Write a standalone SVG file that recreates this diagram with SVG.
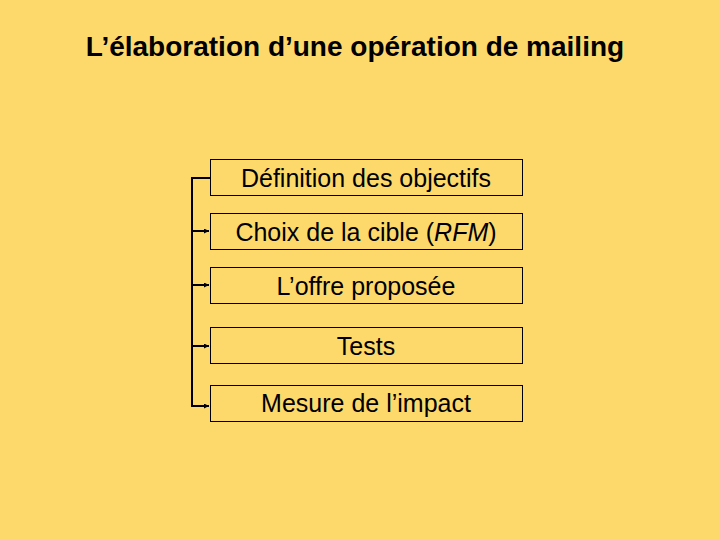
<svg xmlns="http://www.w3.org/2000/svg" width="720" height="540" viewBox="0 0 720 540">
<defs>
<style>
.box{fill:none;stroke:#000;stroke-width:1}
.t{font-family:"Liberation Sans",Arial,sans-serif;font-size:25px;fill:#000;text-anchor:middle}
.c{stroke:#000;stroke-width:2;fill:none}
</style>
<marker id="ah" viewBox="0 0 10 10" refX="10" refY="5" markerWidth="5" markerHeight="5" orient="auto" markerUnits="userSpaceOnUse"><path d="M0,0 L10,5 L0,10 z" fill="#000"/></marker>
</defs>
<rect width="720" height="540" fill="#FDD96C"/>
<text x="355" y="56" font-family="Liberation Sans,Arial,sans-serif" font-size="28" font-weight="bold" text-anchor="middle">L’élaboration d’une opération de mailing</text>
<g id="connectors">
<path class="c" d="M210,178 H192 V406"/>
<path class="c" d="M192,231 H209" marker-end="url(#ah)"/>
<path class="c" d="M192,285 H209" marker-end="url(#ah)"/>
<path class="c" d="M192,346 H209" marker-end="url(#ah)"/>
<path class="c" d="M191,406 H209" marker-end="url(#ah)"/>
</g>
<g id="n1"><rect class="box" x="210.5" y="159.5" width="312" height="36"/><text class="t" x="366" y="186.5">Définition des objectifs</text></g>
<g id="n2"><rect class="box" x="210.5" y="213.5" width="312" height="36"/><text class="t" x="366" y="240.5">Choix de la cible (<tspan font-style="italic">RFM</tspan>)</text></g>
<g id="n3"><rect class="box" x="210.5" y="267.5" width="312" height="36"/><text class="t" x="366" y="294.5">L’offre proposée</text></g>
<g id="n4"><rect class="box" x="210.5" y="327.5" width="312" height="36"/><text class="t" x="366" y="354.5">Tests</text></g>
<g id="n5"><rect class="box" x="210.5" y="385.5" width="312" height="36"/><text class="t" x="366" y="412">Mesure de l’impact</text></g>
</svg>
